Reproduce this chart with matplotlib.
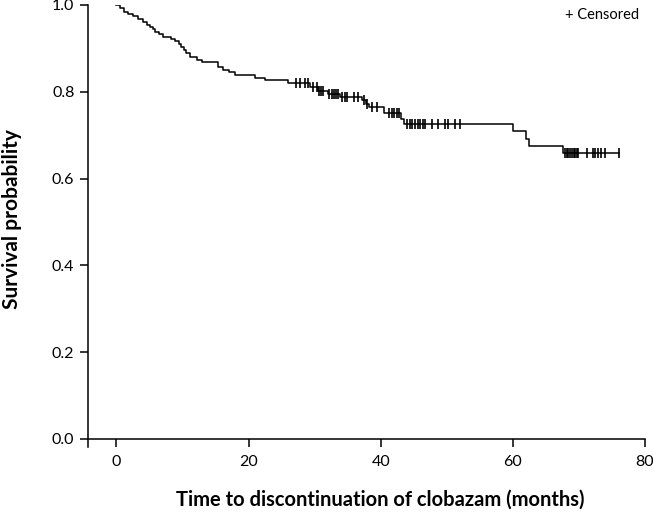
import numpy as np
import matplotlib
matplotlib.use('Agg')
import matplotlib.pyplot as plt

# --- data ---
event_times = [0.6, 1.1, 1.8, 2.5, 3.2, 4.0, 4.6, 5.1, 5.5, 5.9, 6.5, 7.1, 8.2, 8.9,
               9.4, 9.8, 10.2, 10.6, 11.2, 12.2, 13.0, 15.3, 16.2, 17.1, 17.9, 21.0,
               22.5, 26.0, 29.3, 30.5, 32.0, 33.8, 37.2, 37.8, 38.3, 40.5, 43.0, 43.6,
               60.0, 62.0, 62.5, 67.6]
survival = [0.992, 0.984, 0.979, 0.975, 0.968, 0.960, 0.955, 0.950, 0.944, 0.938,
            0.932, 0.926, 0.921, 0.916, 0.910, 0.903, 0.896, 0.889, 0.880, 0.874,
            0.868, 0.857, 0.851, 0.845, 0.838, 0.831, 0.826, 0.821, 0.810, 0.802,
            0.795, 0.788, 0.781, 0.772, 0.764, 0.752, 0.738, 0.725, 0.709, 0.692,
            0.674, 0.658]
censor_times = [27.2, 27.8, 28.6, 29.0, 29.8, 30.4, 30.6, 31.0, 31.3, 32.2, 32.6, 33.0,
                33.3, 33.6, 34.2, 34.6, 34.9, 35.9, 36.5, 37.4, 38.0, 38.7, 39.5,
                41.3, 41.7, 42.0, 42.4, 42.7, 44.0, 44.4, 44.8, 45.2, 45.6, 46.0,
                46.4, 46.7, 47.8, 48.6, 49.8, 50.2, 51.3, 52.0,
                67.9, 68.2, 68.4, 68.7, 68.9, 69.2, 69.4, 69.7, 69.9, 71.2, 72.1,
                72.5, 72.9, 73.3, 74.0, 76.0]
x_ticks = [0, 20, 40, 60, 80]
y_ticks = [0.0, 0.2, 0.4, 0.6, 0.8, 1.0]

plt.rcParams['font.family'] = ['Lato', 'DejaVu Sans']

fig = plt.figure(figsize=(6.53, 5.14), dpi=100)
ax = fig.add_axes([88 / 653, (514 - 447) / 514, (645 - 88) / 653, (447 - 5) / 514])

# step curve
t = np.concatenate([[0.0], event_times, [censor_times[-1]]])
s = np.concatenate([[1.0], survival, [survival[-1]]])
ax.step(t, s, where='post', color='black', lw=1.1)

# censor marks on the curve
idx = np.searchsorted(event_times, censor_times, side='right')
s_full = np.concatenate([[1.0], survival])
ax.plot(censor_times, s_full[idx], ls='none', marker='|', ms=7, mew=1.2, color='black')

ax.set_xlim(-4.3, 80)
ax.set_ylim(-0.019, 1.0)
ax.spines['bottom'].set_position(('data', 0))
ax.spines['top'].set_visible(False)
ax.spines['right'].set_visible(False)
for sp in ['left', 'bottom']:
    ax.spines[sp].set_linewidth(1.1)

ax.set_xticks(x_ticks)
ax.set_xticklabels([str(v) for v in x_ticks])
ax.set_yticks(y_ticks)
ax.set_yticklabels([f'{v:.1f}' for v in y_ticks])
ax.tick_params(direction='out', length=5.8, width=1.1, labelsize=11.5, colors='black')
ax.tick_params(axis='x', pad=6)
ax.tick_params(axis='y', pad=4)

fig.text(12 / 653, 1 - 219 / 514, 'Survival probability', rotation=90,
         ha='center', va='center', fontsize=15, fontweight='bold')
fig.text(380 / 653, 1 - 500 / 514, 'Time to discontinuation of clobazam (months)',
         ha='center', va='center', fontsize=14.5, fontweight='bold')
fig.text(602 / 653, 1 - 15 / 514, '+ Censored', ha='center', va='center', fontsize=10.5)

fig.savefig('out.png', dpi=100)
